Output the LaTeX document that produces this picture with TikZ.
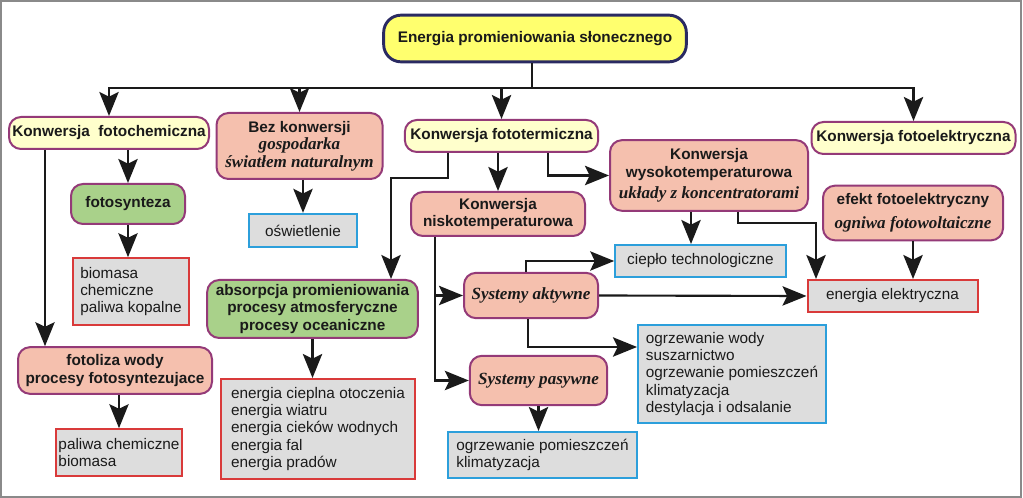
\documentclass[tikz,border=0pt]{standalone}
\usepackage{fontspec}
\setmainfont{Liberation Sans}
\newfontfamily\seriffam{Liberation Serif}
\usepackage{tikz}
\usetikzlibrary{arrows.meta}

\definecolor{sunyellow}{HTML}{FFFF6E}
\definecolor{navyline}{HTML}{2A2A62}
\definecolor{paleyellow}{HTML}{FFFFCC}
\definecolor{plum}{HTML}{943A78}
\definecolor{salmon}{HTML}{F5C0AE}
\definecolor{leaf}{HTML}{A9D18A}
\definecolor{boxgray}{HTML}{DDDDDD}
\definecolor{skyline}{HTML}{2C9FDB}
\definecolor{redline}{HTML}{D93A3A}
\definecolor{framegray}{HTML}{8A8A8A}
\definecolor{ink}{HTML}{1A1A1A}

\newcommand{\opis}[1]{{\seriffam\bfseries\itshape\fontsize{12.8}{15}\selectfont #1}}

\begin{document}
\begin{tikzpicture}[->,>={Stealth[length=18pt,width=14.5pt,inset=3.5pt]},
                    x=0.75pt,y=-0.75pt,line width=1.6pt,draw=ink,
                    font=\fontsize{11.5}{13}\selectfont,
                    wh/.style 2 args={minimum width=#1,minimum height=#2}]
  \tikzstyle{every node}=[inner xsep=2pt,inner ysep=2pt,text=ink]
  \tikzstyle{rbox}=[draw=plum,line width=1.5pt,rounded corners=9pt,align=center,
                    font=\fontsize{11.5}{13}\selectfont\bfseries]
  \tikzstyle{source}=[rbox,fill=sunyellow,draw=navyline,line width=2.2pt,rounded corners=13pt]
  \tikzstyle{branch}=[rbox,fill=paleyellow]
  \tikzstyle{process}=[rbox,fill=salmon]
  \tikzstyle{green process}=[rbox,fill=leaf]
  \tikzstyle{output}=[draw,fill=boxgray,line width=1.5pt,align=left]
  \tikzstyle{output red}=[output,draw=redline]
  \tikzstyle{output blue}=[output,draw=skyline]

  \useasboundingbox (0,0) rectangle (1023,498);
  \draw[-,framegray,line width=1.5pt] (1,1) rectangle (1021,497);

  % nodes
  \node[source,wh={227pt}{35pt}] (sun) at (535,38.5) {Energia promieniowania słonecznego};

  \node[branch,wh={150pt}{24pt}] (fchem) at (109,133) {Konwersja~ fotochemiczna};
  \node[process,wh={124.5pt}{49.5pt}] (bez) at (299.5,146)
       {Bez konwersji\\ \opis{gospodarka}\\ \opis{światłem naturalnym}};
  \node[branch,wh={145pt}{24pt}] (fterm) at (501.5,136) {Konwersja fototermiczna};
  \node[branch,wh={153pt}{24pt}] (felek) at (913.5,138) {Konwersja fotoelektryczna};

  \node[green process,wh={85.5pt}{30pt}] (fsyn) at (128,204) {fotosynteza};
  \node[output blue,wh={81pt}{25pt},align=center] (oswiet) at (303,230.5) {oświetlenie};
  \node[process,wh={148.5pt}{53pt}] (wysoko) at (709,175.5)
       {Konwersja\\wysokotemperaturowa\\[3pt]\opis{układy z koncentratorami}};
  \node[process,wh={130.5pt}{33pt}] (nisko) at (498,214) {Konwersja\\niskotemperaturowa};
  \node[process,wh={135pt}{41pt}] (efekt) at (913,213)
       {efekt fotoelektryczny\\[5pt]\opis{ogniwa fotowoltaiczne}};

  \node[output red,wh={87pt}{50pt}] (biomasa) at (131,291.5) {biomasa\\chemiczne\\paliwa kopalne};
  \node[green process,wh={158pt}{43.5pt}] (absorp) at (312.5,309)
       {absorpcja promieniowania\\procesy atmosferyczne\\procesy oceaniczne};
  \node[output blue,wh={128pt}{24pt},align=center] (cieplo) at (700.5,261) {ciepło technologiczne};
  \node[process,wh={100.5pt}{34pt}] (aktyw) at (531,295.5) {\opis{Systemy aktywne}};
  \node[output red,wh={127.5pt}{24pt},align=center] (energia) at (892.5,296) {energia elektryczna};
  \node[output blue,wh={141pt}{74pt}] (ogrzW) at (732,374)
       {ogrzewanie wody\\suszarnictwo\\ogrzewanie pomieszczeń\\klimatyzacja\\destylacja i odsalanie};
  \node[process,wh={103pt}{37pt}] (pasyw) at (538.5,380.5) {\opis{Systemy pasywne}};
  \node[output blue,wh={142pt}{34.5pt}] (ogrzP) at (542.5,455) {ogrzewanie pomieszczeń\\klimatyzacja};

  \node[process,wh={145.5pt}{35pt}] (fotoliza) at (115,370.5) {fotoliza wody\\procesy fotosyntezujace};
  \node[output red,wh={93pt}{35pt}] (paliwa) at (119,452.5) {paliwa chemiczne\\biomasa};
  \node[output red,wh={145.5pt}{75pt}] (cieplna) at (318,429)
       {energia cieplna otoczenia\\energia wiatru\\energia cieków wodnych\\energia fal\\energia pradów};

  % bends
  \coordinate (bus) at (532,88);
  \coordinate (fphot) at (45,0);
  \coordinate (tA) at (448,178);
  \coordinate (tB) at (391,178);
  \coordinate (tC) at (548,0);
  \coordinate (wc) at (691,0);
  \coordinate (wB) at (738,223);
  \coordinate (wE) at (816,223);
  \coordinate (nA) at (435,0);
  \coordinate (aT) at (526,0);
  \coordinate (aW) at (528,347);

  % connectors
  \draw[-] (sun.south -| bus) -- (bus);
  \draw (bus) -| (fchem.north);
  \draw (bus) -| (bez.north);
  \draw (bus) -| (fterm.north);
  \draw (bus) -| (felek.north);

  \path (fchem.south -| fsyn.north) edge (fsyn.north)
        (fchem.south -| fphot) edge (fotoliza.north -| fphot)
        (fsyn.south) edge (fsyn.south |- biomasa.north)
        (bez.south -| oswiet.north) edge (oswiet.north)
        (fotoliza.south -| paliwa.north) edge (paliwa.north)
        (absorp.south) edge (absorp.south |- cieplna.north)
        (fterm.south -| nisko.north) edge (nisko.north)
        (wysoko.south -| wc) edge (cieplo.north -| wc)
        (efekt.south) edge (efekt.south |- energia.north)
        (aktyw.east) edge (energia.west)
        (pasyw.south) edge (pasyw.south |- ogrzP.north);

  \draw (fterm.south -| tA) -- (tA) -- (tB) -- (absorp.north -| tB);
  \draw (fterm.south -| tC) |- (wysoko.west);
  \draw (wysoko.south -| wB) -- (wB) -- (wE) -- (energia.north -| wE);
  \draw (nisko.south -| nA) |- (aktyw.west);
  \draw (nisko.south -| nA) |- (pasyw.west);
  \draw (aktyw.north -| aT) |- (cieplo.west);
  \draw (aktyw.south -| aW) -- (aW) -- (aW -| ogrzW.west);

\end{tikzpicture}
\end{document}
